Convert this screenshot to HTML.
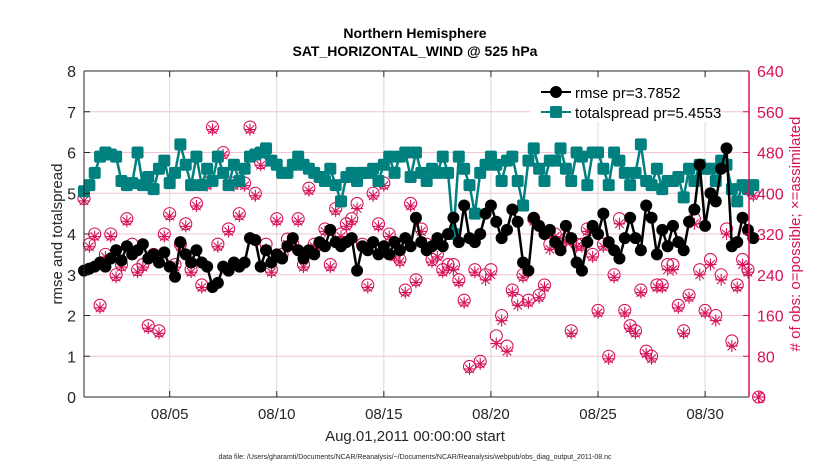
<!DOCTYPE html>
<html><head><meta charset="utf-8"><style>
body{margin:0;background:#fff;width:830px;height:470px;overflow:hidden;font-family:"Liberation Sans",Arial,sans-serif}
svg text{font-family:"Liberation Sans",Arial,sans-serif}
</style></head><body>
<svg id="chart" width="830" height="470" xmlns="http://www.w3.org/2000/svg">
<g id="grid"></g>
<g id="obs"></g>
<g id="lines"></g>
<g id="axes"></g>
<text x="415" y="38" text-anchor="middle" font-size="14" font-weight="bold">Northern Hemisphere</text>
<text x="415" y="56" text-anchor="middle" font-size="14" font-weight="bold">SAT_HORIZONTAL_WIND @ 525 hPa</text>
<text x="415" y="441" text-anchor="middle" font-size="15" fill="#262626">Aug.01,2011 00:00:00 start</text>
<text x="415" y="459" text-anchor="middle" font-size="7" fill="#262626">data file: /Users/gharamti/Documents/NCAR/Reanalysis/~/Documents/NCAR/Reanalysis/webpub/obs_diag_output_2011-08.nc</text>
<text transform="translate(62,234) rotate(-90)" text-anchor="middle" font-size="15" fill="#262626">rmse and totalspread</text>
<text transform="translate(800,234) rotate(-90)" text-anchor="middle" font-size="15" fill="#d6125a"># of obs: o=possible; ×=assimilated</text>
<g id="legend">
<rect x="530" y="78" width="180" height="44" fill="#fff"/>
<line x1="541" y1="92" x2="571" y2="92" stroke="#000" stroke-width="2"/><circle cx="556" cy="92" r="6" fill="#000"/>
<text x="575" y="98" font-size="15">rmse pr=3.7852</text>
<line x1="541" y1="112" x2="571" y2="112" stroke="#00807f" stroke-width="2"/><rect x="550" y="106" width="12" height="12" rx="2" fill="#00807f"/>
<text x="575" y="118" font-size="15">totalspread pr=5.4553</text>
</g>
</svg>
<script>
const rmse=[3.1,3.15,3.2,3.3,3.2,3.4,3.6,3.35, 3.7,3.5,3.6,3.75,3.4,3.5,3.3,3.55, 3.2,2.95,3.8,3.5,3.3,3.6,3.3,3.2,
2.7,2.8,3.2,3.1,3.3,3.2,3.3,3.9, 3.85,3.2,3.6,3.3,3.5,3.4,3.7,3.9, 3.6,3.4,3.6,3.5,3.8,3.7,4.1,3.8,
3.7,3.8,3.9,3.1,3.7,3.6,3.8,3.5, 3.7,3.5,3.8,3.6,3.9,3.7,4.4,3.8, 3.6,3.7,3.9,3.7,4.0,4.4,3.8,4.7,
3.9,3.8,4.0,4.5,4.7,4.3,3.9,4.1, 4.6,4.3,3.3,3.1,4.4,4.2,4.0,4.1, 3.8,3.6,4.2,3.9,3.3,3.1,3.8,4.2,
4.0,4.5,3.8,3.6,3.4,3.9,4.4,3.9, 3.6,4.7,4.4,3.5,4.1,3.7,4.2,3.8, 3.6,4.3,4.6,5.7,4.2,5.0,4.8,5.6,
6.1,3.7,3.8,4.4,4.1,3.9];
const spread=[5.05,5.2,5.5,5.9,6.0,5.95,5.9,5.3, 5.2,5.25,6.0,5.2,5.4,5.1,5.6,5.8, 5.25,5.5,6.2,5.7,5.2,5.9,5.2,5.6,
5.3,5.9,5.5,5.2,5.7,5.3,5.6,5.9, 5.95,6.0,6.1,5.8,5.7,5.5,5.5,5.7, 5.9,5.7,5.6,5.5,5.4,5.3,5.6,5.2,
4.8,5.4,5.5,5.3,5.5,5.5,5.6,5.3, 5.7,5.9,5.5,5.9,6.0,5.4,6.0,5.5, 5.3,5.6,5.5,5.9,5.5,4.0,5.9,5.6,
5.2,4.5,5.5,5.7,5.9,5.7,5.3,5.8, 5.9,5.3,4.7,5.8,6.1,5.6,5.3,5.8, 5.8,6.1,5.6,5.3,6.0,5.9,5.2,6.0,
6.0,5.6,5.2,6.0,5.8,5.5,5.2,5.5, 6.2,5.3,5.2,5.6,5.1,5.3,5.3,5.4, 4.9,5.6,5.3,5.7,5.6,5.6,5.3,5.8,
5.7,5.1,4.8,5.2,5.1,5.2];
const obsPossible=[390,300,320,180,280,320,240,260, 350,300,250,260,140,280,130,320, 360,260,300,340,250,380,220,420,
530,300,480,330,420,360,420,530, 400,460,300,250,350,280,310,300, 350,260,410,300,300,330,260,370,
320,340,350,380,300,220,400,340, 420,320,280,270,210,380,230,330, 300,270,280,250,260,260,230,190,
60,250,70,240,250,120,160,100, 210,190,240,190,350,200,220,300, 320,300,310,130,300,300,330,280,
170,300,80,240,350,170,140,130, 210,90,80,220,220,260,260,180, 130,200,350,250,170,270,160,240,
330,110,220,270,250,400,0];
const obsAssim=[385,295,315,175,275,315,235,255, 345,290,245,255,135,275,125,315, 355,255,295,335,245,375,215,415,
525,295,475,325,415,355,415,525, 395,455,290,245,345,275,300,295, 345,255,405,295,295,325,255,365,
315,335,345,370,295,215,395,335, 415,315,275,265,205,375,225,325, 290,265,275,245,255,250,225,185,
55,245,65,230,240,105,150,90, 205,180,235,185,345,195,215,290, 315,295,305,125,295,295,325,275,
165,295,75,235,340,165,135,125, 205,85,75,215,215,250,250,175, 125,195,340,240,165,260,150,230,
320,100,215,260,245,395,0];
const L=84,R=749,T=71,B=397,D0=0,D1=31.05;
const xs=d=>L+(d-D0)/(D1-D0)*(R-L);
const yl=v=>B-v/8*(B-T);
const yr=v=>B-v/640*(B-T);
const NS="http://www.w3.org/2000/svg";
function mk(tag,attrs,parent){const e=document.createElementNS(NS,tag);for(const k in attrs)e.setAttribute(k,attrs[k]);parent.appendChild(e);return e;}
const grid=document.getElementById('grid'),axes=document.getElementById('axes'),obs=document.getElementById('obs'),lines=document.getElementById('lines');
const leftTicks=[0,1,2,3,4,5,6,7,8];
const rightTicks=[0,80,160,240,320,400,480,560,640];
const dateTicks=[4,9,14,19,24,29];
const dateLabels=['08/05','08/10','08/15','08/20','08/25','08/30'];
rightTicks.forEach(v=>{const g=mk('line',{x1:L,x2:R,y1:yr(v),y2:yr(v),stroke:'#f2c4d6','stroke-width':1},grid);

});
dateTicks.forEach((d,i)=>{const g=mk('line',{x1:xs(d),x2:xs(d),y1:T,y2:B,stroke:'#d9d9d9','stroke-width':1},grid);


mk('line',{x1:xs(d),x2:xs(d),y1:B,y2:B-6,stroke:'#262626'},axes);
mk('line',{x1:xs(d),x2:xs(d),y1:T,y2:T+6,stroke:'#262626'},axes);
const t=mk('text',{x:xs(d),y:B+22,'text-anchor':'middle','font-size':15,fill:'#262626'},axes);t.textContent=dateLabels[i];

});
leftTicks.forEach(v=>{mk('line',{x1:L,x2:L+6,y1:yl(v),y2:yl(v),stroke:'#262626'},axes);
const t=mk('text',{x:L-8,y:yl(v)+6,'text-anchor':'end','font-size':16,fill:'#262626'},axes);t.textContent=v;

});
rightTicks.forEach(v=>{mk('line',{x1:R,x2:R-6,y1:yr(v),y2:yr(v),stroke:'#d6125a'},axes);
const t=mk('text',{x:R+8,y:yr(v)+6,'font-size':16,fill:'#d6125a'},axes);t.textContent=v;

});
mk('line',{x1:L,x2:R,y1:T,y2:T,stroke:'#262626'},axes);
mk('line',{x1:L,x2:R,y1:B,y2:B,stroke:'#262626'},axes);
mk('line',{x1:L,x2:L,y1:T,y2:B,stroke:'#262626'},axes);
mk('line',{x1:R,x2:R,y1:T,y2:B,stroke:'#d6125a','stroke-width':1.5},axes);
const C='#d6125a';
obsPossible.forEach((v,i)=>{const c=mk('circle',{cx:xs(i*0.25),cy:yr(v),r:6,fill:'none',stroke:C,'stroke-width':1.1},obs);

});
obsAssim.forEach((v,i)=>{const x=xs(i*0.25),y=yr(v);const g=mk('g',{stroke:C,'stroke-width':1.1},obs);


for(let a=0;a<4;a++){const an=a*Math.PI/4;mk('line',{x1:x-6*Math.cos(an),y1:y-6*Math.sin(an),x2:x+6*Math.cos(an),y2:y+6*Math.sin(an)},g);}});
function series(arr,color,shape,name){
const p=mk('polyline',{points:arr.map((v,i)=>xs(i*0.25)+','+yl(v)).join(' '),fill:'none',stroke:color,'stroke-width':2.5},lines);


arr.forEach((v,i)=>{let m;if(shape==='c')m=mk('circle',{cx:xs(i*0.25),cy:yl(v),r:6,fill:color},lines);
else m=mk('rect',{x:xs(i*0.25)-6,y:yl(v)-6,width:12,height:12,rx:2,fill:color},lines);

});}
series(spread,'#00807f','s','totalspread');
series(rmse,'#000','c','rmse');
</script>
</body></html>
